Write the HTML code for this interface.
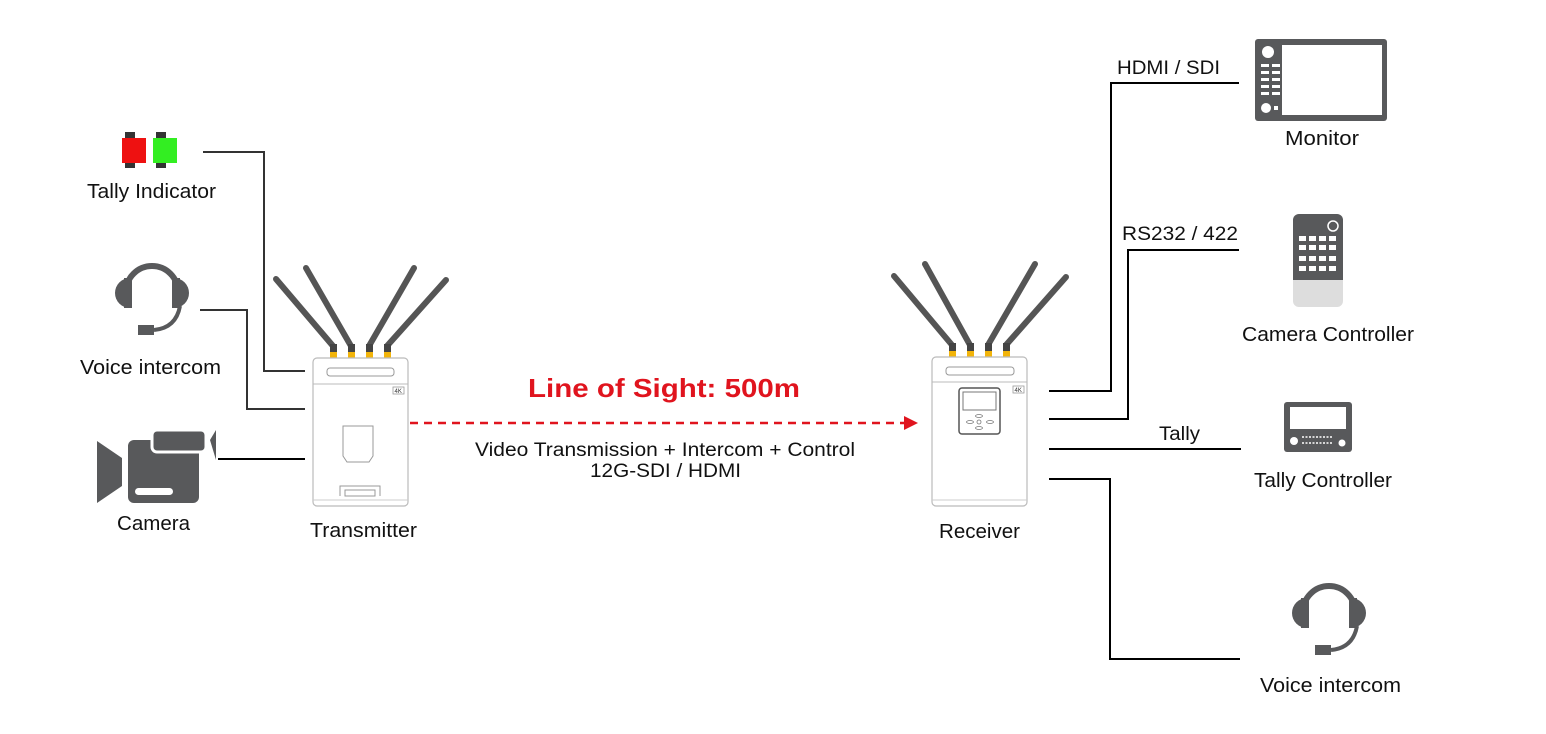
<!DOCTYPE html>
<html><head><meta charset="utf-8"><style>
html,body{margin:0;padding:0;background:#fff;}
svg{display:block;}
text{font-family:"Liberation Sans",sans-serif;fill:#111;}
</style></head><body>
<svg width="1546" height="734" viewBox="0 0 1546 734" xmlns="http://www.w3.org/2000/svg">
<defs>
<g id="hp">
  <path d="M-26,32 V22 A26,26 0 0 1 26,22 V32" fill="none" stroke="#58595b" stroke-width="6"/>
  <path d="M-22,8 A15,15 0 0 0 -22,38 Z" fill="#58595b"/>
  <rect x="-28" y="8" width="8" height="30" fill="#58595b"/>
  <path d="M22,8 A15,15 0 0 1 22,38 Z" fill="#58595b"/>
  <rect x="20" y="8" width="8" height="30" fill="#58595b"/>
  <path d="M28,36 Q24,58 2,60" fill="none" stroke="#58595b" stroke-width="4"/>
  <rect x="-14" y="55" width="16" height="10" fill="#58595b"/>
</g>
</defs>

<g fill="none" stroke="#333" stroke-width="2">
<polyline points="203,152 264,152 264,371 305,371"/>
<polyline points="200,310 247,310 247,409 305,409"/>
<polyline points="218,459 305,459" stroke="#000"/>
<polyline points="1049,391 1111,391 1111,83 1239,83" stroke="#000"/>
<polyline points="1049,419 1128,419 1128,250 1239,250" stroke="#000"/>
<polyline points="1049,449 1241,449" stroke="#000"/>
<polyline points="1049,479 1110,479 1110,659 1240,659" stroke="#000"/>
</g>

<line x1="410" y1="423" x2="906" y2="423" stroke="#e0141e" stroke-width="2.5" stroke-dasharray="8,6"/>
<polygon points="904,416 918,423 904,430" fill="#e0141e"/>
<text x="528" y="397" font-size="26" font-weight="bold" style="fill:#e0141e" textLength="272" lengthAdjust="spacingAndGlyphs">Line of Sight: 500m</text>
<text x="475" y="456" font-size="19" textLength="380" lengthAdjust="spacingAndGlyphs">Video Transmission + Intercom + Control</text>
<text x="590" y="477" font-size="19" textLength="151" lengthAdjust="spacingAndGlyphs">12G-SDI / HDMI</text>

<!-- transmitter -->
<g>
  <g stroke="#555" stroke-width="6" stroke-linecap="round">
    <line x1="333" y1="346" x2="276" y2="279"/>
    <line x1="351" y1="346" x2="306" y2="268"/>
    <line x1="369" y1="346" x2="414" y2="268"/>
    <line x1="387" y1="346" x2="446" y2="280"/>
  </g>
  <g fill="#f2b40a"><rect x="330" y="352" width="7" height="6"/><rect x="348" y="352" width="7" height="6"/><rect x="366" y="352" width="7" height="6"/><rect x="384" y="352" width="7" height="6"/></g>
  <g fill="#444"><rect x="330" y="344" width="7" height="8"/><rect x="348" y="344" width="7" height="8"/><rect x="366" y="344" width="7" height="8"/><rect x="384" y="344" width="7" height="8"/></g>
  <rect x="313" y="358" width="95" height="148" rx="4" fill="#fff" stroke="#bbb" stroke-width="1.2"/>
  <line x1="313" y1="384" x2="408" y2="384" stroke="#bbb"/>
  <rect x="327" y="368" width="67" height="8" rx="3" fill="#fff" stroke="#999"/>
  <line x1="313" y1="500" x2="408" y2="500" stroke="#ccc"/>
  <rect x="393" y="387" width="11" height="7" fill="#fff" stroke="#999" stroke-width="0.8"/>
  <text x="394.5" y="393" font-size="6" style="fill:#333">4K</text>
  <path d="M343,426 h30 v30 l-4,6 h-22 l-4,-6 z" fill="#fff" stroke="#999"/>
  <path d="M340,496 v-10 h40 v10" fill="none" stroke="#999"/>
  <rect x="345" y="490" width="30" height="6" fill="none" stroke="#999"/>
</g>
<text x="310" y="537" font-size="20" textLength="107" lengthAdjust="spacingAndGlyphs">Transmitter</text>

<!-- receiver -->
<g>
  <g stroke="#555" stroke-width="6" stroke-linecap="round">
    <line x1="952" y1="345" x2="894" y2="276"/>
    <line x1="970" y1="345" x2="925" y2="264"/>
    <line x1="988" y1="345" x2="1035" y2="264"/>
    <line x1="1006" y1="345" x2="1066" y2="277"/>
  </g>
  <g fill="#f2b40a"><rect x="949" y="351" width="7" height="6"/><rect x="967" y="351" width="7" height="6"/><rect x="985" y="351" width="7" height="6"/><rect x="1003" y="351" width="7" height="6"/></g>
  <g fill="#444"><rect x="949" y="343" width="7" height="8"/><rect x="967" y="343" width="7" height="8"/><rect x="985" y="343" width="7" height="8"/><rect x="1003" y="343" width="7" height="8"/></g>
  <rect x="932" y="357" width="95" height="149" rx="4" fill="#fff" stroke="#bbb" stroke-width="1.2"/>
  <line x1="932" y1="382" x2="1027" y2="382" stroke="#bbb"/>
  <rect x="946" y="367" width="68" height="8" rx="3" fill="#fff" stroke="#999"/>
  <line x1="932" y1="500" x2="1027" y2="500" stroke="#ccc"/>
  <rect x="1013" y="386" width="11" height="7" fill="#fff" stroke="#999" stroke-width="0.8"/>
  <text x="1014.5" y="392" font-size="6" style="fill:#333">4K</text>
  <rect x="959" y="388" width="41" height="46" rx="3" fill="#fff" stroke="#555" stroke-width="1.5"/>
  <rect x="963" y="392" width="33" height="18" fill="#fff" stroke="#777"/>
  <g fill="none" stroke="#777" stroke-width="0.8">
    <ellipse cx="979" cy="416" rx="3.5" ry="1.5"/><ellipse cx="979" cy="428" rx="3.5" ry="1.5"/>
    <ellipse cx="970" cy="422" rx="3.5" ry="1.5"/><ellipse cx="990" cy="422" rx="3.5" ry="1.5"/>
    <circle cx="979" cy="422" r="2"/>
  </g>
</g>
<text x="939" y="538" font-size="20" textLength="81" lengthAdjust="spacingAndGlyphs">Receiver</text>

<!-- tally indicator -->
<rect x="125" y="132" width="10" height="36" fill="#333"/>
<rect x="156" y="132" width="10" height="36" fill="#333"/>
<rect x="122" y="138" width="24" height="25" fill="#ee1111"/>
<rect x="153" y="138" width="24" height="25" fill="#33ee22"/>
<text x="87" y="198" font-size="20" textLength="129" lengthAdjust="spacingAndGlyphs">Tally Indicator</text>

<use href="#hp" x="152" y="270"/>
<text x="80" y="374" font-size="20" textLength="141" lengthAdjust="spacingAndGlyphs">Voice intercom</text>

<!-- camera -->
<polygon points="97,441 122,458 122,486 97,503" fill="#58595b"/>
<rect x="128" y="440" width="71" height="63" rx="6" fill="#58595b"/>
<rect x="152" y="430" width="54" height="22" rx="5" fill="#58595b" stroke="#fff" stroke-width="3"/>
<polygon points="210,440 216,430 216,460" fill="#58595b"/>
<rect x="135" y="488" width="38" height="7" rx="3.5" fill="#fff"/>
<text x="117" y="530" font-size="20" textLength="73" lengthAdjust="spacingAndGlyphs">Camera</text>

<!-- monitor -->
<rect x="1255" y="39" width="132" height="82" rx="3" fill="#58595b"/>
<rect x="1282" y="45" width="100" height="70" fill="#fff"/>
<circle cx="1268" cy="52" r="6" fill="#fff"/>
<circle cx="1266" cy="108" r="5" fill="#fff"/>
<g fill="#fff">
<rect x="1261" y="64" width="8" height="3"/><rect x="1272" y="64" width="8" height="3"/>
<rect x="1261" y="71" width="8" height="3"/><rect x="1272" y="71" width="8" height="3"/>
<rect x="1261" y="78" width="8" height="3"/><rect x="1272" y="78" width="8" height="3"/>
<rect x="1261" y="85" width="8" height="3"/><rect x="1272" y="85" width="8" height="3"/>
<rect x="1261" y="92" width="8" height="3"/><rect x="1272" y="92" width="8" height="3"/>
<rect x="1274" y="106" width="4" height="4"/>
</g>
<text x="1285" y="145" font-size="20" textLength="74" lengthAdjust="spacingAndGlyphs">Monitor</text>

<!-- camera controller -->
<rect x="1293" y="214" width="50" height="93" rx="6" fill="#ddd"/>
<path d="M1293,280 V220 a6,6 0 0 1 6,-6 h38 a6,6 0 0 1 6,6 V280 Z" fill="#58595b"/>
<circle cx="1333" cy="226" r="5" fill="none" stroke="#fff" stroke-width="1.5"/>
<g fill="#fff">
<rect x="1299" y="236" width="7" height="5"/><rect x="1309" y="236" width="7" height="5"/><rect x="1319" y="236" width="7" height="5"/><rect x="1329" y="236" width="7" height="5"/>
<rect x="1299" y="245" width="7" height="5"/><rect x="1309" y="245" width="7" height="5"/><rect x="1319" y="245" width="7" height="5"/><rect x="1329" y="245" width="7" height="5"/>
<rect x="1299" y="256" width="7" height="5"/><rect x="1309" y="256" width="7" height="5"/><rect x="1319" y="256" width="7" height="5"/><rect x="1329" y="256" width="7" height="5"/>
<rect x="1299" y="266" width="7" height="5"/><rect x="1309" y="266" width="7" height="5"/><rect x="1319" y="266" width="7" height="5"/><rect x="1329" y="266" width="7" height="5"/>
</g>
<text x="1242" y="341" font-size="20" textLength="172" lengthAdjust="spacingAndGlyphs">Camera Controller</text>

<!-- tally controller -->
<rect x="1284" y="402" width="68" height="50" rx="3" fill="#58595b"/>
<rect x="1290" y="407" width="56" height="22" fill="#fff"/>
<circle cx="1294" cy="441" r="4" fill="#fff"/><circle cx="1342" cy="443" r="3.5" fill="#fff"/>
<g stroke="#fff" stroke-width="1.5" stroke-dasharray="2,1.5"><line x1="1302" y1="437" x2="1332" y2="437"/><line x1="1302" y1="443" x2="1332" y2="443"/></g>
<text x="1254" y="487" font-size="20" textLength="138" lengthAdjust="spacingAndGlyphs">Tally Controller</text>

<use href="#hp" x="1329" y="590"/>
<text x="1260" y="692" font-size="20" textLength="141" lengthAdjust="spacingAndGlyphs">Voice intercom</text>

<text x="1117" y="74" font-size="19" textLength="103" lengthAdjust="spacingAndGlyphs">HDMI / SDI</text>
<text x="1122" y="240" font-size="19" textLength="116" lengthAdjust="spacingAndGlyphs">RS232 / 422</text>
<text x="1159" y="440" font-size="19" textLength="41" lengthAdjust="spacingAndGlyphs">Tally</text>
</svg>
</body></html>
